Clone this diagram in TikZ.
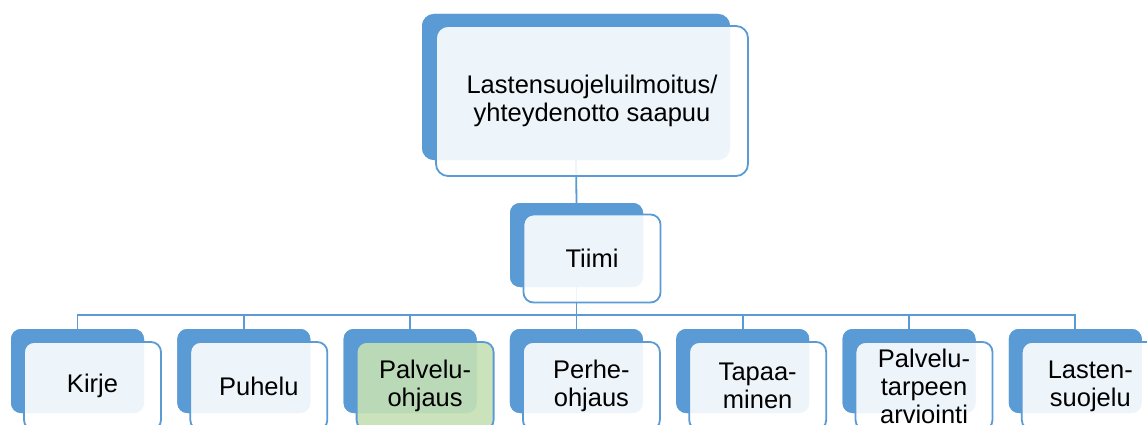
\documentclass[tikz,border=0pt]{standalone}
\usepackage{fontspec}
\setmainfont{Liberation Sans}
\definecolor{acc}{HTML}{5B9BD5}
\definecolor{grn}{HTML}{C5E0B4}
\tikzset{
  backbox/.style={draw=none, fill=acc, rounded corners=10pt, inner sep=0pt, minimum width=133pt, minimum height=84pt},
  frontbox/.style={draw=acc, line width=1.8pt, fill=white, fill opacity=0.9, text opacity=1, rounded corners=10pt, inner sep=0pt, align=center, minimum width=137pt, minimum height=88pt, font=\fontsize{25.5}{28}\selectfont},
  greenbox/.style={frontbox, fill=grn},
  conn/.style={draw=acc, line width=1.8pt}
}
\begin{document}
\begin{tikzpicture}[x=1pt, y=-1pt]
\useasboundingbox (0,0) rectangle (1147,425);
\clip (0,0) rectangle (1147,425);
\fill[white] (0,0) rectangle (1147,425);
% back boxes
\node[backbox, minimum width=308pt, minimum height=146pt, rounded corners=12pt] (topB) at (576,87) {};
\node[backbox] (tiimiB) at (576.5,245) {};
\foreach \i in {0,...,6}{
  \node[backbox] (c\i B) at (77.5+166.3*\i,371) {};
}
% connectors
\draw[conn] (topB.south) -- (tiimiB.north);
\foreach \i in {0,...,6}{
  \draw[conn] (tiimiB.south) -- ++(0,28) -| (c\i B.north);
}
% back boxes again on top of connectors
\node[backbox, minimum width=308pt, minimum height=146pt, rounded corners=12pt] at (topB) {};
\node[backbox] at (tiimiB) {};
\foreach \i in {0,...,6}{
  \node[backbox] at (c\i B) {};
}
% front boxes
\node[frontbox, minimum width=312pt, minimum height=150pt, rounded corners=12pt] (topF) at (592,101) {Lastensuojeluilmoitus/\\yhteydenotto saapuu};
\node[frontbox] (tiimiF) at (592,258.5) {Tiimi};
\node[frontbox] (c0F) at ([shift={(15,15)}]c0B) {Kirje};
\node[frontbox] (c1F) at ([shift={(15,15)}]c1B) {Puhelu};
\node[greenbox] (c2F) at ([shift={(15,15)}]c2B) {Palvelu-\\ohjaus};
\node[frontbox] (c3F) at ([shift={(15,15)}]c3B) {Perhe-\\ohjaus};
\node[frontbox] (c4F) at ([shift={(15,15)}]c4B) {Tapaa-\\minen};
\node[frontbox] (c5F) at ([shift={(15,15)}]c5B) {Palvelu-\\tarpeen\\arviointi};
\node[frontbox] (c6F) at ([shift={(15,15)}]c6B) {Lasten-\\suojelu};
\end{tikzpicture}
\end{document}
